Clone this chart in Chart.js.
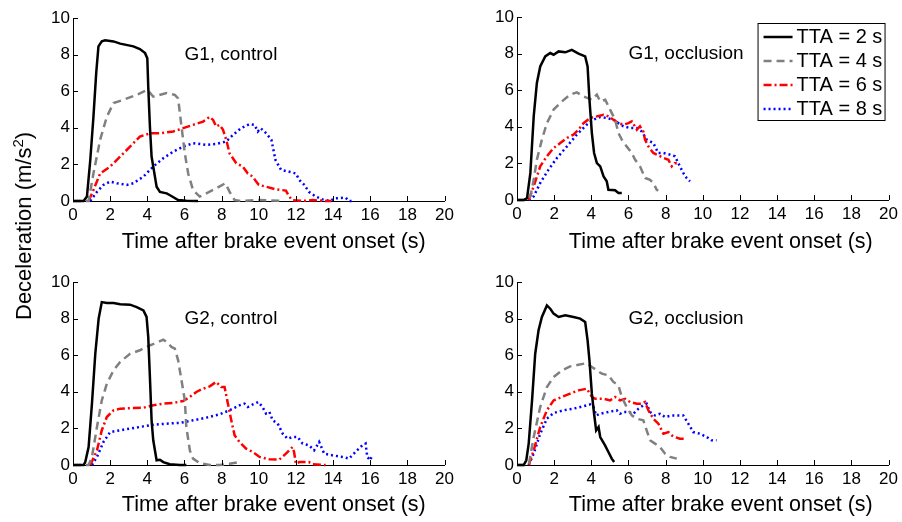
<!DOCTYPE html>
<html>
<head>
<meta charset="utf-8">
<script src="https://cdn.jsdelivr.net/npm/chart.js@4/dist/chart.umd.min.js"></script>
<style>
  body { margin: 0; background: #fff; width: 902px; height: 522px; position: relative; overflow: hidden;
         font-family: "Liberation Sans", Arial, sans-serif; }
  canvas { position: absolute; }
  #yTitle { position: absolute; left: 24px; top: 226px; transform: translate(-50%, -50%) rotate(-90deg);
            font-size: 22px; white-space: nowrap; color: #000; line-height: 1; }
  #yTitle sup { font-size: 15px; line-height: 0; vertical-align: 8px; }
</style>
</head>
<body>
<canvas id="g1Control" width="458" height="261" style="left:0;top:0"></canvas>
<canvas id="g1Occlusion" width="444" height="261" style="left:458px;top:0"></canvas>
<canvas id="g2Control" width="458" height="261" style="left:0;top:261px"></canvas>
<canvas id="g2Occlusion" width="444" height="261" style="left:458px;top:261px"></canvas>
<div id="yTitle">Deceleration (m/s<sup>2</sup>)</div>

<script>
// [time (s), deceleration (m/s^2)]
const g1Control2 = [[0,0],[0.57,0],[0.75,0.24],[0.93,2.24],[1.1,4.6],[1.25,7.0],[1.37,8.45],[1.55,8.72],[1.73,8.78],[2.18,8.72],[2.54,8.6],[3.25,8.45],[3.6,8.3],[3.88,8.08],[4.0,7.8],[4.05,6.26],[4.14,4.07],[4.23,2.43],[4.41,1.33],[4.5,0.78],[4.68,0.5],[5.04,0.42],[5.2,0.33],[5.66,0.05],[6.1,0.02],[6.73,0]];
const g1Control4 = [[0,0],[0.84,0],[1.1,1.5],[1.46,3.34],[1.82,4.6],[2.18,5.35],[2.71,5.53],[3.43,5.8],[4.0,6.08],[4.32,5.7],[5.04,5.9],[5.48,5.8],[5.66,5.6],[5.84,4.07],[6.02,2.6],[6.2,1.5],[6.46,0.6],[6.82,0.24],[7.18,0.42],[7.71,0.69],[8.2,0.97],[8.43,0.5],[8.7,0.05],[9.05,0],[10,0.05],[11.3,0]];
const g1Control6 = [[0.84,0],[1.1,0.6],[1.46,1.5],[2.0,1.88],[2.54,2.43],[3.07,2.97],[3.6,3.52],[4.14,3.7],[4.68,3.7],[5.4,3.8],[5.93,3.98],[6.46,4.16],[7.0,4.34],[7.36,4.6],[7.54,4.43],[7.71,4.07],[7.89,4.16],[8.07,3.9],[8.25,3.34],[8.43,2.6],[8.79,2.06],[9.14,1.88],[9.41,1.5],[9.68,1.33],[9.86,1.06],[10.0,0.88],[10.4,0.78],[10.9,0.64],[11.46,0.57],[11.64,0.24],[11.8,0.05],[12.36,0],[12.9,0.05],[13.6,0],[13.9,0]];
const g1Control8 = [[0.93,0],[1.29,0.5],[1.64,0.88],[2.0,1.06],[2.36,0.97],[2.89,0.88],[3.25,0.97],[3.79,1.33],[4.32,1.88],[4.86,2.34],[5.4,2.7],[5.93,2.97],[6.46,3.16],[7.18,3.07],[7.71,3.12],[8.25,3.25],[8.6,3.6],[9.05,3.98],[9.5,4.2],[9.77,4.16],[9.95,3.8],[10.1,3.98],[10.4,3.7],[10.68,3.34],[10.9,2.24],[11.2,1.7],[11.64,1.6],[12.0,1.5],[12.18,1.15],[12.45,0.88],[12.7,0.5],[13.07,0.24],[13.43,0.09],[13.8,0],[14.14,0.15],[14.68,0.18],[14.86,0],[15.1,0]];

const g1Occlusion2 = [[0,0],[0.36,0],[0.54,0.1],[0.72,1.48],[0.9,4.57],[1.07,6.4],[1.25,7.3],[1.52,7.85],[1.79,8.03],[1.97,7.94],[2.24,8.12],[2.6,8.07],[2.95,8.2],[3.31,8.0],[3.67,7.85],[3.8,7.3],[3.9,5.48],[4.03,3.66],[4.15,2.57],[4.3,2.02],[4.48,1.84],[4.66,1.29],[4.83,1.02],[4.92,0.56],[5.28,0.53],[5.46,0.38],[5.64,0.38]];
const g1Occlusion4 = [[0,0],[0.54,0],[0.72,0.2],[0.9,1.1],[1.07,2.2],[1.34,3.3],[1.61,4.2],[1.97,4.94],[2.42,5.39],[2.86,5.76],[3.22,5.88],[3.58,5.66],[4.03,5.48],[4.3,5.76],[4.48,5.39],[4.75,5.48],[5.01,4.94],[5.28,4.39],[5.46,3.66],[5.64,3.3],[5.9,2.93],[6.18,2.57],[6.36,2.2],[6.62,1.84],[6.9,1.2],[7.16,1.1],[7.34,0.93],[7.52,0.56],[7.6,0.5]];
const g1Occlusion6 = [[0.63,0],[0.9,0.75],[1.25,1.84],[1.61,2.39],[1.97,2.84],[2.33,3.11],[2.69,3.39],[3.04,3.57],[3.31,3.84],[3.58,4.2],[3.94,4.48],[4.3,4.57],[4.66,4.66],[4.92,4.57],[5.19,4.39],[5.46,4.2],[5.73,4.12],[6.0,4.2],[6.18,4.3],[6.45,3.84],[6.62,4.03],[6.8,3.75],[6.89,3.3],[7.07,2.93],[7.34,2.57],[7.52,2.48],[7.88,2.3],[8.15,2.2],[8.33,1.84],[8.5,2.02],[8.6,2.0]];
const g1Occlusion8 = [[0.63,0],[0.9,0.2],[1.25,0.93],[1.7,1.66],[2.15,2.3],[2.69,2.93],[3.22,3.57],[3.76,4.12],[4.12,4.39],[4.48,4.53],[4.83,4.48],[5.19,4.39],[5.46,4.2],[5.73,4.03],[6.09,3.93],[6.45,3.93],[6.71,3.75],[6.98,3.3],[7.34,3.11],[7.6,2.57],[7.88,2.57],[8.24,2.48],[8.5,2.39],[8.68,2.02],[8.95,1.48],[9.13,1.2],[9.31,1.02]];

const g2Control2 = [[0,0],[0.57,0],[0.66,0.16],[0.84,0.98],[1.02,3.35],[1.2,6.08],[1.38,8.0],[1.55,8.9],[1.82,8.85],[2.18,8.85],[2.54,8.78],[3.07,8.76],[3.43,8.63],[3.79,8.45],[3.96,8.09],[4.05,7.0],[4.14,4.8],[4.23,2.44],[4.32,1.35],[4.5,0.26],[4.68,0.29],[4.86,0.16],[5.21,0.04],[5.75,0],[6.1,0]];
const g2Control4 = [[0,0],[0.84,0],[1.02,0.44],[1.29,2.08],[1.55,3.53],[1.82,4.44],[2.18,5.17],[2.54,5.63],[3.07,6.08],[3.6,6.27],[4.14,6.54],[4.59,6.72],[4.86,6.85],[5.04,6.72],[5.3,6.45],[5.48,6.36],[5.66,5.72],[5.84,4.63],[6.02,3.53],[6.1,2.08],[6.29,0.8],[6.46,0.35],[6.82,0.1],[7.36,0],[7.89,0],[8.43,0.07],[8.96,0.16]];
const g2Control6 = [[0.93,0],[1.29,0.8],[1.55,1.9],[1.82,2.62],[2.18,2.99],[2.54,3.08],[3.25,3.11],[3.79,3.13],[4.32,3.26],[4.86,3.35],[5.39,3.39],[5.93,3.5],[6.29,3.72],[6.64,3.99],[7.0,4.17],[7.36,4.3],[7.71,4.54],[7.98,4.26],[8.16,4.26],[8.34,3.35],[8.52,2.44],[8.7,1.62],[8.96,1.26],[9.32,0.89],[9.68,0.71],[10.04,0.44],[10.57,0.31],[11.1,0.29],[11.46,0.62],[11.82,0.98],[11.9,0.71],[12.0,0.07],[12.18,0.16],[12.7,0.16],[12.9,0.04],[13.6,0]];
const g2Control8 = [[1.02,0],[1.29,0.44],[1.64,1.26],[2.0,1.8],[2.54,1.9],[3.07,1.99],[3.79,2.11],[4.32,2.2],[5.04,2.26],[5.75,2.3],[6.46,2.44],[7.18,2.59],[7.89,2.77],[8.43,2.99],[8.96,3.26],[9.23,3.35],[9.41,3.17],[9.68,3.31],[9.98,3.44],[10.2,3.17],[10.39,2.81],[10.57,2.9],[10.75,2.44],[11.02,2.26],[11.29,1.71],[11.55,1.44],[11.82,1.53],[12.09,1.53],[12.36,1.17],[12.71,1.07],[12.98,0.8],[13.25,1.26],[13.52,0.62],[13.96,0.53],[14.5,0.44],[14.86,0.35],[15.2,0.71],[15.57,1.07],[15.75,1.17],[15.84,0.44],[16.0,0.26],[16.1,0.53]];

const g2Occlusion2 = [[0,0],[0.36,0],[0.5,0.26],[0.63,1.17],[0.81,3.53],[0.98,6.08],[1.16,7.36],[1.34,8.09],[1.61,8.72],[1.79,8.54],[1.97,8.27],[2.24,8.09],[2.6,8.18],[3.04,8.09],[3.4,8.0],[3.67,7.81],[3.8,6.81],[3.9,5.72],[4.03,3.9],[4.15,2.8],[4.26,1.89],[4.39,2.08],[4.48,1.53],[4.74,1.07],[4.92,0.71],[5.1,0.35],[5.23,0.16]];
const g2Occlusion4 = [[0,0],[0.63,0],[0.9,1.53],[1.25,3.17],[1.61,4.26],[1.97,4.81],[2.42,5.17],[2.86,5.39],[3.31,5.48],[3.76,5.57],[4.03,5.36],[4.3,5.17],[4.57,4.99],[4.92,4.9],[5.19,4.54],[5.46,4.35],[5.64,3.72],[5.9,3.17],[6.18,2.71],[6.45,2.53],[6.8,2.44],[6.98,1.89],[7.16,1.35],[7.43,1.17],[7.7,0.98],[7.97,0.62],[8.24,0.44],[8.6,0.35]];
const g2Occlusion6 = [[0.63,0],[0.9,0.8],[1.25,2.08],[1.61,2.99],[1.97,3.53],[2.42,3.72],[2.86,3.9],[3.31,4.08],[3.76,4.17],[4.03,3.72],[4.21,3.62],[4.66,3.62],[5.01,3.53],[5.28,3.72],[5.55,3.53],[5.82,3.62],[6.09,3.44],[6.45,3.35],[6.71,3.35],[6.89,3.44],[7.07,2.99],[7.34,2.53],[7.61,2.26],[7.88,1.71],[8.15,1.8],[8.33,1.62],[8.5,1.53],[8.77,1.44],[9.13,1.44]];
const g2Occlusion8 = [[0.63,0],[0.9,0.62],[1.25,1.71],[1.61,2.53],[1.97,2.84],[2.51,2.99],[3.04,3.08],[3.58,3.21],[3.94,3.31],[4.12,3.17],[4.26,2.71],[4.48,2.8],[4.92,2.9],[5.37,2.99],[5.55,2.8],[5.73,2.9],[6.0,2.9],[6.27,2.8],[6.54,3.08],[6.8,3.26],[6.98,3.35],[7.16,2.9],[7.43,2.71],[7.7,2.8],[7.97,2.62],[8.33,2.71],[8.77,2.71],[8.95,2.71],[9.22,2.26],[9.49,1.8],[9.85,1.71],[10.21,1.53],[10.47,1.35],[10.74,1.35]];

const seriesLabels = ['TTA = 2 s', 'TTA = 4 s', 'TTA = 6 s', 'TTA = 8 s'];
const panelTitles = ['G1, control', 'G1, occlusion', 'G2, control', 'G2, occlusion'];
const xAxisTitle = 'Time after brake event onset (s)';
const xTickValues = [0, 2, 4, 6, 8, 10, 12, 14, 16, 18, 20];
const yTickValues = [0, 2, 4, 6, 8, 10];

const FONT = '"Liberation Sans", Arial, sans-serif';
const lineColors = ['#000000', '#808080', '#ff0000', '#0000ff'];
const lineDashes = [[], [8, 5], [8, 3, 2, 3], [2, 3]];

// MATLAB-style ticks pointing into the plot
const innerTicks = {
  id: 'innerTicks',
  afterDraw(chart) {
    const { ctx, chartArea: area, scales: { x, y } } = chart;
    ctx.save();
    ctx.strokeStyle = '#000';
    ctx.lineWidth = 1;
    ctx.beginPath();
    xTickValues.forEach((v) => {
      const px = Math.round(x.getPixelForValue(v)) + 0.5;
      ctx.moveTo(px, area.bottom);
      ctx.lineTo(px, area.bottom - 5);
    });
    yTickValues.forEach((v) => {
      const py = Math.round(y.getPixelForValue(v)) + 0.5;
      ctx.moveTo(area.left, py);
      ctx.lineTo(area.left + 5, py);
    });
    ctx.stroke();
    ctx.restore();
  },
};

// panel name inside the plot and the x axis title (sits a bit right of centre in the original)
const panelText = {
  id: 'panelText',
  afterDraw(chart, args, opts) {
    const { ctx, chartArea: area, scales: { x, y } } = chart;
    ctx.save();
    ctx.fillStyle = '#000';
    ctx.font = `19px ${FONT}`;
    ctx.textAlign = 'left';
    ctx.textBaseline = 'middle';
    ctx.fillText(opts.text, x.getPixelForValue(6), y.getPixelForValue(8));
    ctx.font = `21.5px ${FONT}`;
    ctx.textAlign = 'center';
    ctx.fillText(xAxisTitle, (area.left + area.right) / 2 + opts.titleShift, opts.titleY);
    ctx.restore();
  },
};

const ttaLegend = {
  id: 'ttaLegend',
  afterDraw(chart, args, opts) {
    if (!opts.show) return;
    const { ctx, chartArea: area } = chart;
    const right = area.right - 3;
    const left = right - 128;
    const top = area.top + 6;
    ctx.save();
    ctx.fillStyle = '#fff';
    ctx.fillRect(left, top, 128, 98);
    ctx.strokeStyle = '#000';
    ctx.lineWidth = 1;
    ctx.strokeRect(left + 0.5, top + 0.5, 127, 97);
    ctx.font = `20px ${FONT}`;
    ctx.textBaseline = 'middle';
    seriesLabels.forEach((label, i) => {
      const rowY = top + 14 + i * 24;
      ctx.beginPath();
      ctx.setLineDash(lineDashes[i]);
      ctx.strokeStyle = lineColors[i];
      ctx.lineWidth = 2.5;
      ctx.moveTo(left + 6, rowY);
      ctx.lineTo(left + 35, rowY);
      ctx.stroke();
      ctx.setLineDash([]);
      ctx.fillStyle = '#000';
      ctx.fillText(label, left + 39, rowY);
    });
    ctx.restore();
  },
};

function buildPanel(id, series, title, box, showLegend) {
  const datasets = series.map((points, i) => ({
    label: seriesLabels[i],
    data: points.map(([x, y]) => ({ x, y })),
    showLine: true,
    borderColor: lineColors[i],
    borderDash: lineDashes[i],
    borderWidth: 2.5,
    pointRadius: 0,
    tension: 0,
    fill: false,
    clip: false,
  }));

  return new Chart(document.getElementById(id), {
    type: 'scatter',
    data: { datasets },
    plugins: [innerTicks, panelText, ttaLegend],
    options: {
      responsive: false,
      animation: false,
      layout: { padding: { left: 0, right: box.right, top: box.top, bottom: 0 } },
      plugins: {
        legend: { display: false },
        tooltip: { enabled: false },
        panelText: { text: title, titleShift: box.titleShift, titleY: box.titleY },
        ttaLegend: { show: showLegend },
      },
      scales: {
        x: {
          type: 'linear',
          min: 0,
          max: 20,
          grid: { display: false, drawTicks: false },
          border: { color: '#000', width: 1 },
          ticks: { stepSize: 2, padding: 4, color: '#000', maxRotation: 0, autoSkip: false,
                   font: { family: FONT, size: 17 } },
          afterFit: (scale) => { scale.height = box.xh; },
        },
        y: {
          type: 'linear',
          min: 0,
          max: 10,
          grid: { display: false, drawTicks: false },
          border: { color: '#000', width: 1 },
          ticks: { stepSize: 2, padding: 3, color: '#000', font: { family: FONT, size: 17 } },
          afterFit: (scale) => { scale.width = box.yw; },
        },
      },
    },
  });
}

buildPanel('g1Control', [g1Control2, g1Control4, g1Control6, g1Control8], panelTitles[0],
  { yw: 73, top: 18, right: 12, xh: 60, titleShift: 15, titleY: 242 }, false);
buildPanel('g1Occlusion', [g1Occlusion2, g1Occlusion4, g1Occlusion6, g1Occlusion8], panelTitles[1],
  { yw: 59, top: 17, right: 13, xh: 61, titleShift: 18, titleY: 242 }, true);
buildPanel('g2Control', [g2Control2, g2Control4, g2Control6, g2Control8], panelTitles[2],
  { yw: 73, top: 21, right: 12, xh: 57, titleShift: 15, titleY: 244 }, false);
buildPanel('g2Occlusion', [g2Occlusion2, g2Occlusion4, g2Occlusion6, g2Occlusion8], panelTitles[3],
  { yw: 59, top: 21, right: 13, xh: 57, titleShift: 18, titleY: 244 }, false);
</script>
</body>
</html>
